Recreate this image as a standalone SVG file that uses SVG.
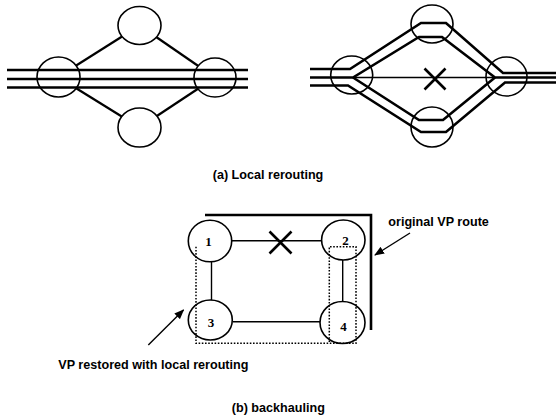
<svg xmlns="http://www.w3.org/2000/svg" width="556" height="418" viewBox="0 0 556 418">
  <style>
    .node { fill: #fff; stroke: #000; stroke-width: 1.6; }
    .ring { fill: none; stroke: #000; stroke-width: 1.6; }
    .trunk { fill: none; stroke: #000; stroke-width: 2.6; stroke-linejoin: miter; }
    .link { fill: none; stroke: #000; stroke-width: 2.2; }
    .thin { fill: none; stroke: #000; stroke-width: 1.4; }
    .cross { fill: none; stroke: #000; stroke-width: 2.6; }
    .dots { fill: none; stroke: #000; stroke-width: 1.5; stroke-dasharray: 1.6 1.6; }
    .label { font-family: "Liberation Sans", Arial, sans-serif; font-weight: bold; font-size: 12.6px; fill: #000; }
    .num { font-family: "Liberation Serif", "Times New Roman", serif; font-weight: bold; font-size: 13px; fill: #000; text-anchor: middle; }
  </style>
  <defs>
    <marker id="arrow" markerWidth="10" markerHeight="8" refX="9" refY="4" orient="auto" markerUnits="userSpaceOnUse">
      <path d="M0,0 L10,4 L0,8 Z" fill="#000"/>
    </marker>
  </defs>
  <rect width="556" height="418" fill="#fff"/>

  <!-- (a) left: network before failure -->
  <g id="a-left-links">
    <line class="link" x1="58" y1="77" x2="139.5" y2="25.5"/>
    <line class="link" x1="139.5" y1="25.5" x2="215" y2="77.5"/>
    <line class="link" x1="58" y1="77" x2="139.5" y2="127.5"/>
    <line class="link" x1="139.5" y1="127.5" x2="215" y2="77.5"/>
  </g>
  <g id="a-left-west"><ellipse class="node" cx="58.5" cy="77" rx="21.5" ry="20"/></g>
  <g id="a-left-north"><ellipse class="node" cx="139.5" cy="25.5" rx="21.5" ry="19"/></g>
  <g id="a-left-south"><ellipse class="node" cx="139.5" cy="127.5" rx="21.5" ry="19.5"/></g>
  <g id="a-left-east"><ellipse class="node" cx="215" cy="77.5" rx="21" ry="19.5"/></g>
  <g id="a-left-trunks">
    <line class="trunk" x1="7" y1="70" x2="248" y2="70"/>
    <line class="trunk" x1="7" y1="79" x2="248" y2="79"/>
    <line class="trunk" x1="7" y1="87.5" x2="248" y2="87.5"/>
  </g>

  <!-- (a) right: rerouting around the failed link -->
  <g id="a-right-west"><ellipse class="ring" cx="351.7" cy="75" rx="21" ry="19"/></g>
  <g id="a-right-north"><ellipse class="ring" cx="432" cy="24" rx="21" ry="19"/></g>
  <g id="a-right-south"><ellipse class="ring" cx="432" cy="127" rx="21" ry="20"/></g>
  <g id="a-right-east"><ellipse class="ring" cx="506.5" cy="76.5" rx="20.5" ry="19.5"/></g>
  <g id="a-right-routes">
    <path class="thin" d="M353,77.5 H495"/>
    <path class="trunk" d="M310,69 H350 L421,23 H446 L503,73 H556"/>
    <path class="trunk" d="M310,77.5 H353 L419,37 H442 L495,77.5 H556"/>
    <path class="trunk" d="M353,77.5 L419,120 H443 L495,77.5"/>
    <path class="trunk" d="M310,85.5 H348 L421,132 H446 L505,82.5 H556"/>
    <path class="cross" d="M424.5,68.5 L445.5,89.5 M445.5,68.5 L424.5,89.5"/>
  </g>

  <text class="label" x="268" y="178.5" text-anchor="middle">(a) Local rerouting</text>

  <!-- (b) backhauling -->
  <g id="b-links">
    <line class="thin" x1="231.7" y1="240.7" x2="321.7" y2="240.7"/>
    <line class="thin" x1="211.5" y1="261.7" x2="211.5" y2="300"/>
    <line class="thin" x1="233" y1="321.7" x2="320" y2="321.7"/>
    <line class="thin" x1="342.7" y1="260" x2="342.7" y2="302"/>
    <path class="cross" d="M269.5,231.5 L291.5,253.5 M291.5,231.5 L269.5,253.5"/>
  </g>
  <g id="node-1">
    <ellipse class="node" cx="210" cy="241" rx="21.7" ry="20.8"/>
    <text class="num" x="208.5" y="245.5">1</text>
  </g>
  <g id="node-2">
    <ellipse class="node" cx="343.3" cy="240" rx="21.7" ry="20"/>
    <text class="num" x="345.5" y="245">2</text>
  </g>
  <g id="node-3">
    <ellipse class="node" cx="210.3" cy="320" rx="22" ry="20"/>
    <text class="num" x="211" y="327">3</text>
  </g>
  <g id="node-4">
    <ellipse class="node" cx="342.5" cy="322.5" rx="22.5" ry="21"/>
    <text class="num" x="343.5" y="330.5">4</text>
  </g>
  <g id="b-routes">
    <path class="trunk" d="M205,215 H371 V330"/>
    <path class="dots" d="M196,246.7 V343.3 H356 V246.7 H329.3 V343.3"/>
  </g>
  <g id="b-callouts">
    <line class="thin" x1="410" y1="233" x2="375" y2="255" stroke-width="1.8" marker-end="url(#arrow)"/>
    <line class="thin" x1="148.3" y1="345" x2="183.5" y2="310" stroke-width="1.8" marker-end="url(#arrow)"/>
  </g>
  <text class="label" x="388.3" y="226">original VP route</text>
  <text class="label" x="58.3" y="369">VP restored with local rerouting</text>
  <text class="label" x="278.3" y="412" text-anchor="middle">(b) backhauling</text>
</svg>
